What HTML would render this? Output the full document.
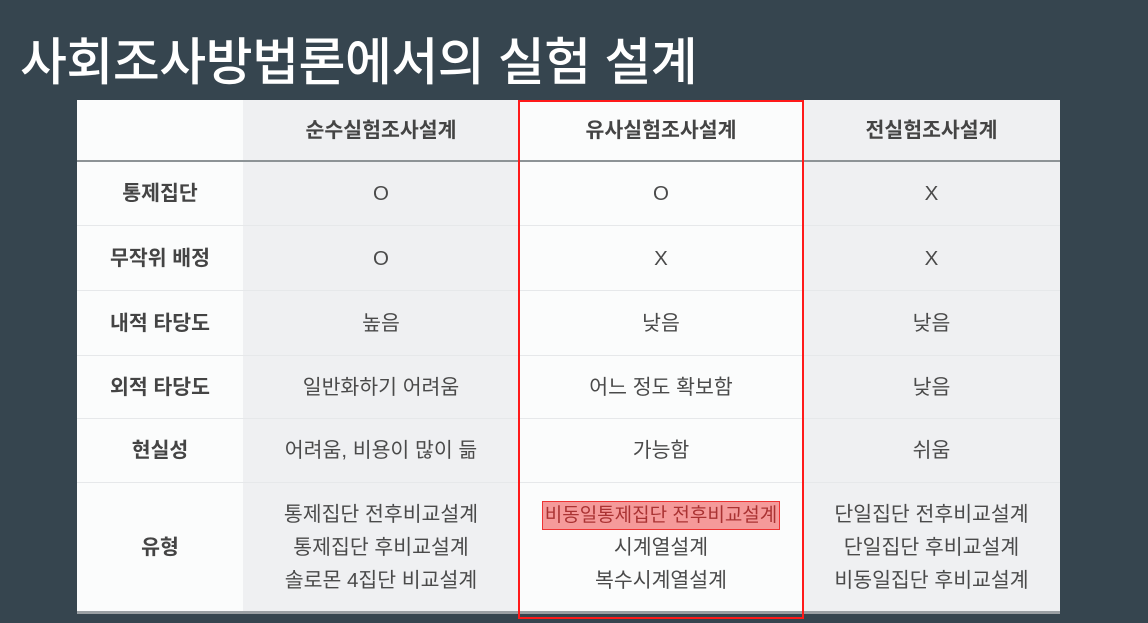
<!DOCTYPE html>
<html><head><meta charset="utf-8"><style>
body{margin:0;width:1148px;height:623px;background:#36454f;position:relative;overflow:hidden;font-family:"Liberation Sans","Noto Sans CJK KR",sans-serif}
.t{position:absolute;left:20px;top:21px;color:#fff;font-size:51px;font-weight:500;white-space:nowrap;letter-spacing:-0.5px}
.tbl{position:absolute;left:77px;top:100px;width:983px;height:514px;background:#fbfcfc}
.col{position:absolute;top:0;height:512px}
.cell{position:absolute;display:flex;align-items:center;justify-content:center;text-align:center;color:#4a4a4a;font-size:20.5px;line-height:33px;white-space:nowrap}
.hd{font-weight:bold;color:#444}
.hl{position:absolute;left:0;width:983px;height:1px;background:#e6e8ea}
</style></head><body>
<div class="t">사회조사방법론에서의 실험 설계</div>
<div class="tbl">
<div class="col" style="left:166px;width:276px;background:#eff0f2"></div>
<div class="col" style="left:726px;width:257px;background:#eff0f2"></div>
<div class="hl" style="top:60px;height:2px;background:#8d9396"></div>
<div class="hl" style="top:125px"></div><div class="hl" style="top:190px"></div><div class="hl" style="top:255px"></div><div class="hl" style="top:318px"></div><div class="hl" style="top:382px"></div>
<div class="hl" style="top:511px;height:3px;background:#9a9fa3"></div>
<div id="cells"></div>
</div>
<div style="position:absolute;left:518px;top:100px;width:282px;height:515px;border:2px solid #ff1a1a"></div>
<script>
const cols=[[0,166],[166,276],[442,284],[726,257]];
const rows=[[0,60],[62,63],[126,64],[191,64],[256,62],[319,63],[383,128]];
const data=[
["","순수실험조사설계","유사실험조사설계","전실험조사설계"],
["통제집단","O","O","X"],
["무작위 배정","O","X","X"],
["내적 타당도","높음","낮음","낮음"],
["외적 타당도","일반화하기 어려움","어느 정도 확보함","낮음"],
["현실성","어려움, 비용이 많이 듦","가능함","쉬움"],
["유형","통제집단 전후비교설계<br>통제집단 후비교설계<br>솔로몬 4집단 비교설계","<span style=\"background:#f59a9a;border:1px solid #e33;color:#a33;padding:0 2px;display:inline-block;line-height:27px;font-size:19px\">비동일통제집단 전후비교설계</span><br>시계열설계<br>복수시계열설계","단일집단 전후비교설계<br>단일집단 후비교설계<br>비동일집단 후비교설계"]];
const c=document.getElementById('cells');
data.forEach((r,i)=>r.forEach((v,j)=>{const d=document.createElement('div');
d.className='cell'+((i==0||j==0)?' hd':'');
d.style.left=cols[j][0]+'px';d.style.width=cols[j][1]+'px';d.style.top=rows[i][0]+'px';d.style.height=rows[i][1]+'px';
d.innerHTML='<div>'+v+'</div>';


c.appendChild(d);}));
</script>
</body></html>
